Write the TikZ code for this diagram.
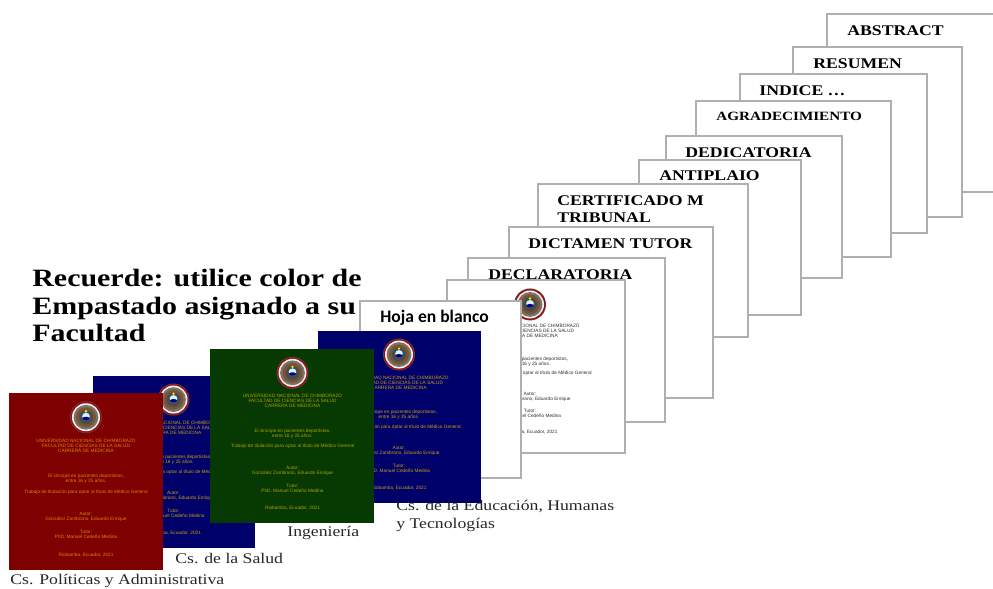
\documentclass[tikz,border=0pt]{standalone}
\usepackage{fontspec}
\setmainfont{Liberation Serif}[FakeStretch=1.2]
\setsansfont{Carlito}
\newfontfamily\coverfont{Liberation Sans}
\usetikzlibrary{positioning}

\definecolor{pageline}{HTML}{B2AEAE}
\definecolor{redcover}{HTML}{7F0000}
\definecolor{bluecover}{HTML}{00006B}
\definecolor{greencover}{HTML}{063A02}
\definecolor{redink}{HTML}{D8860A}
\definecolor{blueink}{HTML}{C8A010}
\definecolor{greenink}{HTML}{B0A000}
\definecolor{whiteink}{HTML}{303030}

\tikzset{
    pagebox/.style={draw=pageline, line width=1.15pt, fill=white},
    pagelabel/.style={anchor=west, inner sep=0pt, font=\bfseries\fontsize{8.4}{9.6}\selectfont, align=left},
    caption/.style={anchor=west, inner sep=0pt, font=\fontsize{8.4}{9.9}\selectfont, align=left, text=black!85},
    covertext/.style={inner sep=0pt, align=center, font=\coverfont\fontsize{2.7}{2.85}\selectfont},
}

% seal of the university, #1 = centre
\newcommand{\sealat}[1]{
    \fill[black!70] (#1) circle (16);
    \fill[red!70!black] (#1) circle (15.2);
    \fill[white!90!gray] (#1) circle (14);
    \fill[black!55] (#1) circle (12.4);
    \fill[brown!65!black] (#1) circle (10);
    \fill[black!60!cyan!60!black] (#1) circle (7);
    \fill[white!85!cyan] ([yshift=0.6pt]#1) ellipse (3.8 and 3.4);
    \fill[blue!50!black] ([yshift=-0.6pt]#1) ellipse (3.4 and 1.6);
    \fill[yellow!90!orange] ([yshift=3.4pt]#1) circle (1.3);
}

% #1 name, #2 centre x, #3 top y, #4 height, #5 ink
\newcommand{\coverinfo}[5]{
    \coordinate (#1S) at (#2, #3+0.137*#4);
    \sealat{#1S}
    \node[covertext, text=#5] (#1A) at (#2, #3+0.30*#4) {UNIVERSIDAD NACIONAL DE CHIMBORAZO\\FACULTAD DE CIENCIAS DE LA SALUD\\CARRERA DE MEDICINA};
    \node[covertext, text=#5] (#1B) at (#2, #3+0.487*#4) {El sincope en pacientes deportistas,\\entre 16 y 25 años.};
    \node[covertext, text=#5] (#1C) at (#2, #3+0.558*#4) {Trabajo de titulación para optar al título de Médico General};
    \node[covertext, text=#5] (#1D) at (#2, #3+0.698*#4) {Autor:\\González Zambrano, Eduardo Enrique};
    \node[covertext, text=#5] (#1E) at (#2, #3+0.80*#4) {Tutor:\\PhD. Manuel Cedeño Medina};
    \node[covertext, text=#5] (#1F) at (#2, #3+0.915*#4) {Riobamba, Ecuador, 2021};
}

\begin{document}
\begin{tikzpicture}[x=0.02cm, y=-0.02cm]
    \useasboundingbox (0, 0) rectangle (993, 588);

    % back pages
    \filldraw[pagebox] (827, 14) rectangle (1010, 192);
    \node[pagelabel] (AB) at (847, 31) {ABSTRACT};
    \filldraw[pagebox] (793, 47) rectangle (962, 217);
    \node[pagelabel] (RE) at (813, 63.5) {RESUMEN};
    \filldraw[pagebox] (740, 74) rectangle (927, 233);
    \node[pagelabel] (IN) at (759, 91) {INDICE …};
    \filldraw[pagebox] (696, 101) rectangle (891, 257);
    \node[pagelabel, font=\bfseries\fontsize{7.2}{8}\selectfont] (AG) at (716, 116) {AGRADECIMIENTO};
    \filldraw[pagebox] (666, 136) rectangle (842, 278);
    \node[pagelabel] (DE) at (685, 152.5) {DEDICATORIA};
    \filldraw[pagebox] (639, 160) rectangle (801, 315);
    \node[pagelabel] (AN) at (659, 175.5) {ANTIPLAIO};
    \filldraw[pagebox] (538, 184) rectangle (748, 337);
    \node[pagelabel] (CE) at (557, 209.5) {CERTIFICADO M\\TRIBUNAL};
    \filldraw[pagebox] (509, 227) rectangle (713, 398);
    \node[pagelabel] (DI) at (528, 243.5) {DICTAMEN TUTOR};
    \filldraw[pagebox] (468, 258) rectangle (665, 422);
    \node[pagelabel] (DC) at (488, 275) {DECLARATORIA};

    % white cover
    \filldraw[pagebox] (447, 280) rectangle (625, 453);
    \coverinfo{WC}{530}{282}{164}{whiteink}

    % note
    \node[anchor=north west, inner sep=0pt, align=left, font=\bfseries\fontsize{14.2}{15.7}\selectfont] (NO) at (32, 269) {Recuerde: utilice color de\\Empastado asignado a su\\Facultad};

    \filldraw[pagebox] (360, 301) rectangle (521, 478);
    \node[anchor=west, inner sep=0pt, font=\sffamily\bfseries\fontsize{10}{11}\selectfont] (HO) at (380, 318) {Hoja en blanco};

    % colored covers, with their faculties
    \node[caption, anchor=north west] (ED) at (396, 500) {Cs. de la Educación, Humanas\\y Tecnologías};
    \fill[bluecover] (318, 331) rectangle (481, 503);
    \coverinfo{BB}{399}{331}{172}{blueink}

    \node[caption] (SA) at (175, 558) {Cs. de la Salud};
    \fill[bluecover] (93, 376) rectangle (255, 548);
    \coverinfo{BA}{173.5}{376}{172}{blueink}

    \node[caption] (IG) at (287, 533) {Ingeniería};
    \fill[greencover] (210, 349) rectangle (374, 523);
    \coverinfo{GR}{292.5}{349}{174}{greenink}

    \node[caption] (PO) at (10, 581) {Cs. Políticas y Administrativa};
    \fill[redcover] (9, 393) rectangle (163, 570);
    \coverinfo{RD}{86}{393}{177}{redink}
\end{tikzpicture}
\end{document}
